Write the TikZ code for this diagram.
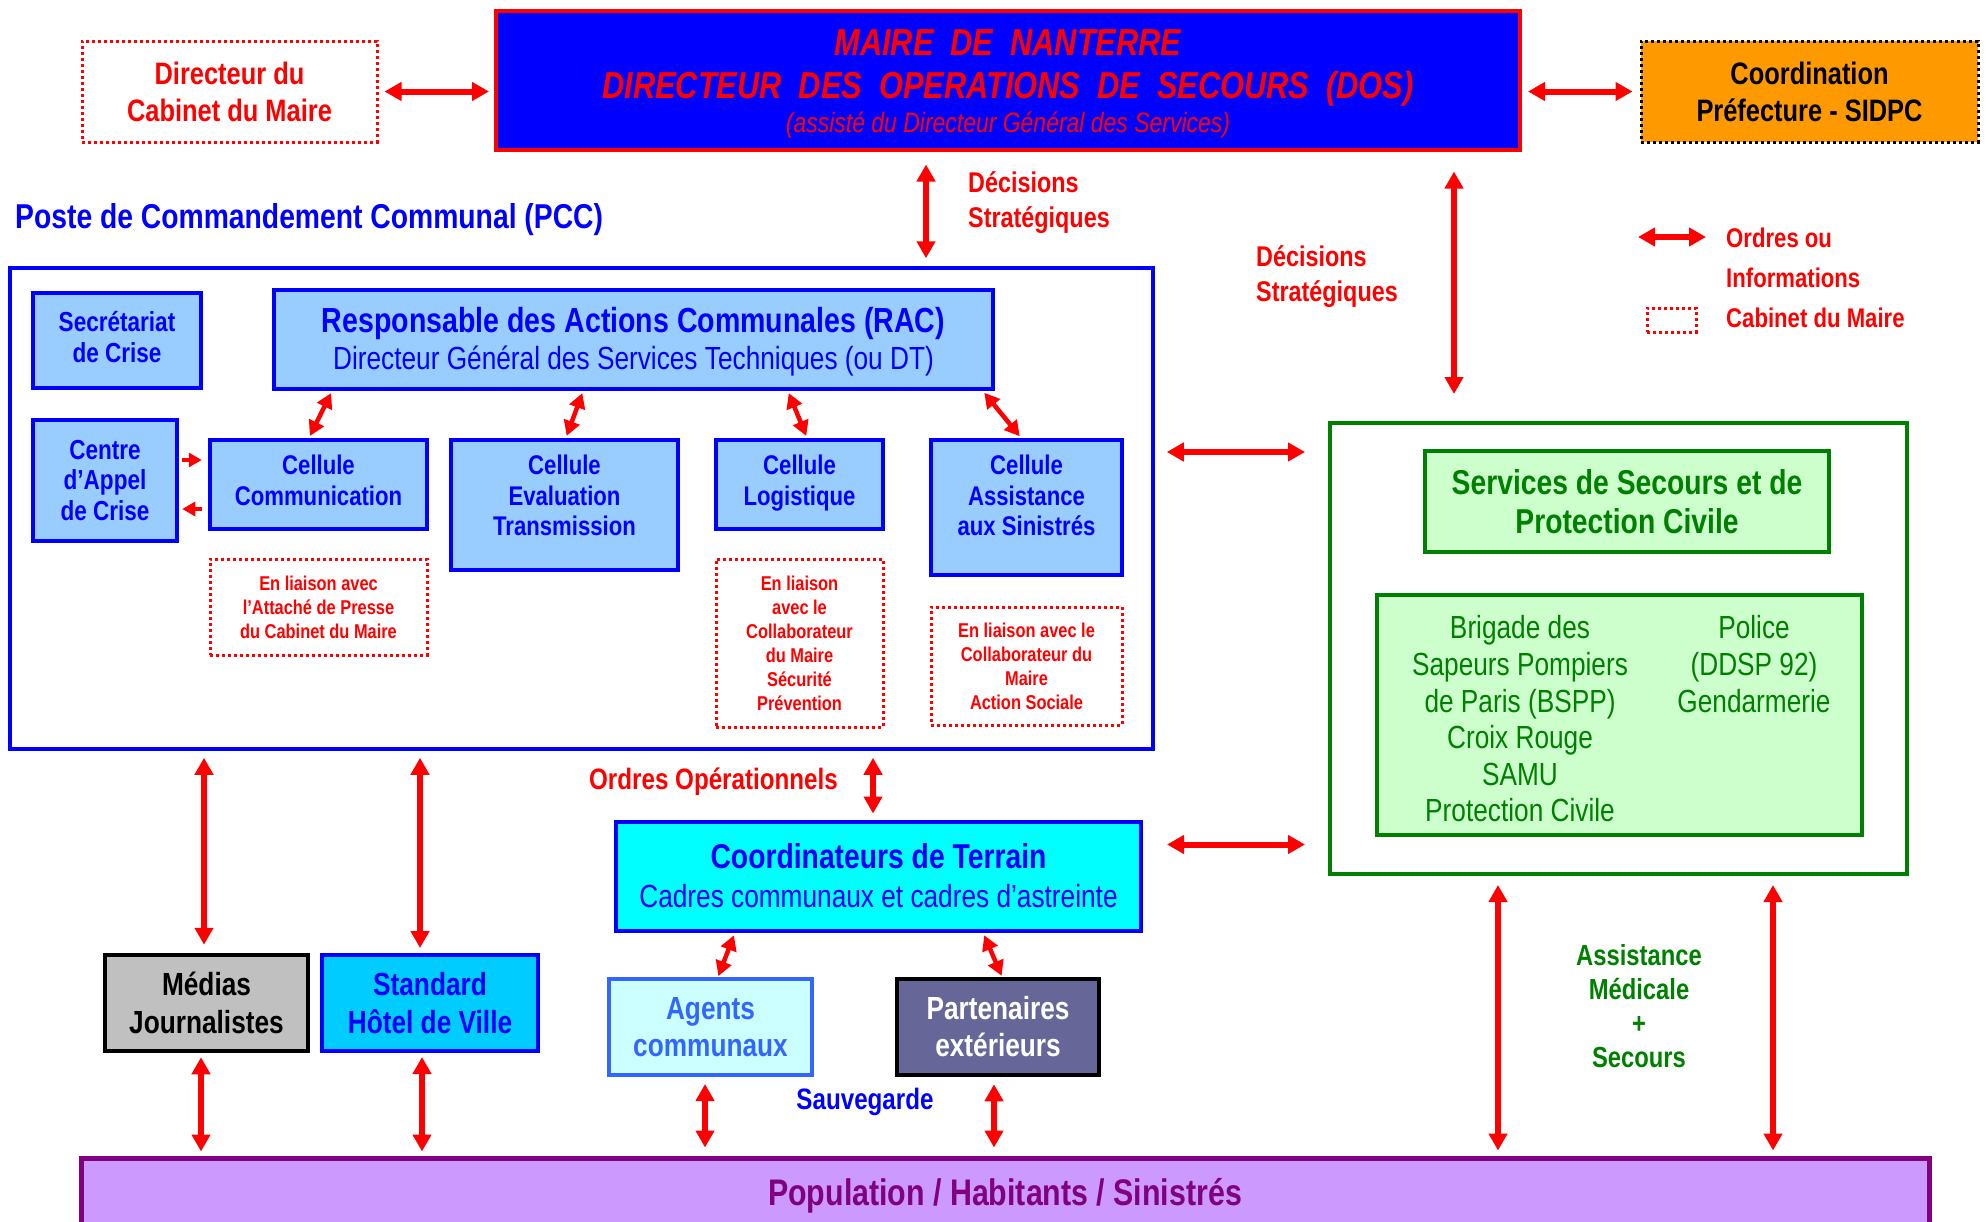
\documentclass[tikz,border=0pt]{standalone}
\usepackage{fontspec}
\setmainfont{Liberation Sans}[FakeStretch=0.82]
\usetikzlibrary{arrows.meta,calc}

\definecolor{lblue}{HTML}{99CCFF}
\definecolor{orng}{HTML}{FF9900}
\definecolor{dgreen}{HTML}{008000}
\definecolor{lgreen}{HTML}{CCFFCC}
\definecolor{aqua}{HTML}{00FFFF}
\definecolor{stdblue}{HTML}{00CCFF}
\definecolor{pale}{HTML}{CCFFFF}
\definecolor{agblue}{HTML}{3366FF}
\definecolor{slate}{HTML}{666699}
\definecolor{greybox}{HTML}{C0C0C0}
\definecolor{lilac}{HTML}{CC99FF}
\definecolor{purp}{HTML}{800080}

\newcommand\fsz[2]{\fontsize{#1}{#2}\selectfont}

\begin{document}
\begin{tikzpicture}[x=1pt,y=-1pt,
  box/.style={rectangle, inner sep=0pt, align=center},
  lbbox/.style={box, fill=lblue, draw=blue, line width=4.5pt},
  ctext/.style={inner sep=0pt, align=center, text=blue, font=\bfseries\fsz{27}{30.5}},
  dotred/.style={box, draw=red, line width=3pt, dash pattern=on 3pt off 3pt,
                 text=red, font=\bfseries\fsz{20}{24}},
  redlabel/.style={inner sep=0pt, align=left, text=red, font=\bfseries\fsz{28.5}{35}},
  arr/.style={draw=red, line width=6pt,
              {Triangle[length=17pt,width=18pt]}-{Triangle[length=17pt,width=18pt]}},
  darr/.style={draw=red, line width=4.5pt,
               {Triangle[length=15pt,width=16pt]}-{Triangle[length=15pt,width=16pt]}},
  sarr/.style={draw=red, line width=3.5pt, -{Triangle[length=13pt,width=14pt]}},
]
\useasboundingbox (0,0) rectangle (1986,1221);
\clip (0,0) rectangle (1986,1221);

% ---------- top row ----------
\node[box, fill=blue, draw=red, line width=4pt, minimum width=1024pt, minimum height=139pt]
  (dos) at (1008,80) {};
\node[inner sep=0pt, align=center, text=red, font=\bfseries\itshape\fsz{37.5}{43}] (dosT)
  at ([yshift=-3.5pt]dos.center)
  {MAIRE\ \ DE\ \ NANTERRE\\DIRECTEUR\ \ DES\ \ OPERATIONS\ \ DE\ \ SECOURS\ \ (DOS)\\[-9pt]%
   {\mdseries\fsz{28}{34}(assisté du Directeur Général des Services)}};
\node[dotred, minimum width=295pt, minimum height=101pt, font=\bfseries\fsz{31}{37}]
  (cab) at (229.5,91.5) {Directeur du\\Cabinet du Maire};
\node[box, fill=orng, draw=black, line width=3pt, dash pattern=on 3pt off 3pt,
      minimum width=337pt, minimum height=101pt, font=\bfseries\fsz{31}{37}]
  (pref) at (1809.5,91.5) {Coordination\\Préfecture - SIDPC};

\node[redlabel, anchor=west] (dec1) at (968,203) {Décisions\\Stratégiques};
\node[redlabel, anchor=west] (dec2) at (1256,277) {Décisions\\Stratégiques};

% legend
\coordinate (lgA) at (1638,237);
\coordinate (lgB) at (1706,237);
\draw[arr] (lgA) -- (lgB);
\node[redlabel, anchor=west, font=\bfseries\fsz{27}{33}] (lg1) at (1726,238) {Ordres ou};
\node[redlabel, anchor=west, font=\bfseries\fsz{27}{33}] (lg2) at (1726,278) {Informations};
\node[box, draw=red, line width=3pt, dash pattern=on 3pt off 3pt,
      minimum width=49pt, minimum height=24pt] (lgbox) at (1671.5,320) {};
\node[redlabel, anchor=west, font=\bfseries\fsz{27}{33}] (lg3) at (1726,318) {Cabinet du Maire};

% ---------- PCC ----------
\node[inner sep=0pt, anchor=west, text=blue, font=\bfseries\fsz{34.5}{40}] (pcctitle)
  at (15,220) {Poste de Commandement Communal (PCC)};
\node[box, draw=blue, line width=3.5pt, fill=white, minimum width=1143pt, minimum height=481pt]
  (pcc) at (581.5,508.5) {};

\node[lbbox, minimum width=168pt, minimum height=95pt] (sec) at (117,340.5) {};
\node[ctext, font=\bfseries\fsz{27.5}{31}] (secT) at ([yshift=3pt]sec.center) {Secrétariat\\de Crise};
\node[lbbox, minimum width=719pt, minimum height=99pt] (rac) at (633.5,339.5) {};
\node[inner sep=0pt, align=center, text=blue, font=\bfseries\fsz{34.8}{36.5}] (racT)
  at ([yshift=-2pt]rac.center)
  {Responsable des Actions Communales (RAC)\\{\mdseries\fsz{32}{36.5}Directeur Général des Services Techniques (ou DT)}};
\node[lbbox, minimum width=144pt, minimum height=121pt, text=blue, font=\bfseries\fsz{27.5}{30.5}]
  (cac) at (105,480.5) {Centre\\d’Appel\\de Crise};

\node[lbbox, minimum width=217pt, minimum height=89pt] (ccom) at (318.5,484.5) {};
\node[lbbox, minimum width=227pt, minimum height=130pt] (ceval) at (564.5,505) {};
\node[lbbox, minimum width=167pt, minimum height=89pt] (clog) at (799.5,484.5) {};
\node[lbbox, minimum width=191pt, minimum height=135pt] (cass) at (1026.5,507.5) {};
\node[ctext, anchor=north] (ccomT) at ([yshift=-17pt]ccom.north) {Cellule\\Communication};
\node[ctext, anchor=north] (cevalT) at ([yshift=-17pt]ceval.north) {Cellule\\Evaluation\\Transmission};
\node[ctext, anchor=north] (clogT) at ([yshift=-17pt]clog.north) {Cellule\\Logistique};
\node[ctext, anchor=north] (cassT) at ([yshift=-17pt]cass.north) {Cellule\\Assistance\\aux Sinistrés};

\node[dotred, minimum width=217pt, minimum height=96pt] (lcom) at (318.5,607)
  {En liaison avec\\l’Attaché de Presse\\du Cabinet du Maire};
\node[dotred, minimum width=167pt, minimum height=168pt] (llog) at (799.5,643)
  {En liaison\\avec le\\Collaborateur\\du Maire\\Sécurité\\Prévention};
\node[dotred, minimum width=191pt, minimum height=118pt] (lass) at (1026.5,666)
  {En liaison avec le\\Collaborateur du\\Maire\\Action Sociale};

% ---------- rescue services ----------
\node[box, draw=dgreen, line width=4pt, fill=white, minimum width=577pt, minimum height=451pt]
  (serv) at (1618.5,648.5) {};
\node[box, draw=dgreen, line width=4pt, fill=lgreen, minimum width=404pt, minimum height=101pt,
      text=dgreen, font=\bfseries\fsz{34.5}{39}] (sspc) at (1627,501.5)
  {Services de Secours et de\\Protection Civile};
\node[box, draw=dgreen, line width=4pt, fill=lgreen, minimum width=485pt, minimum height=240pt]
  (lst) at (1619.5,715) {};
\node[inner sep=0pt, align=center, text=dgreen, font=\fsz{32}{36.6}] (lstL) at (1520,719)
  {Brigade des\\Sapeurs Pompiers\\de Paris (BSPP)\\Croix Rouge\\SAMU\\Protection Civile};
\node[inner sep=0pt, align=center, text=dgreen, font=\fsz{32}{36.6}] (lstR) at (1754,664)
  {Police\\(DDSP 92)\\Gendarmerie};

% ---------- field level ----------
\node[redlabel, anchor=center, font=\bfseries\fsz{29.5}{35}] (ordop) at (713.5,782) {Ordres Opérationnels};
\node[box, fill=aqua, draw=blue, line width=4pt, minimum width=525pt, minimum height=109pt,
      text=blue, font=\bfseries\fsz{34.5}{39}] (coordT) at (878.5,876)
  {Coordinateurs de Terrain\\{\mdseries\fsz{32}{39}Cadres communaux et cadres d’astreinte}};

\node[box, fill=greybox, draw=black, line width=4.5pt, minimum width=203pt, minimum height=96pt,
      font=\bfseries\fsz{32}{38}] (medias) at (206.5,1003) {Médias\\Journalistes};
\node[box, fill=stdblue, draw=blue, line width=4pt, minimum width=216pt, minimum height=96pt,
      text=blue, font=\bfseries\fsz{32}{38}] (std) at (430,1003) {Standard\\Hôtel de Ville};
\node[box, fill=pale, draw=agblue, line width=4pt, minimum width=203pt, minimum height=96pt,
      text=agblue, font=\bfseries\fsz{32}{37}] (agents) at (710.5,1027) {Agents\\communaux};
\node[box, fill=slate, draw=black, line width=4.5pt, minimum width=202pt, minimum height=96pt,
      text=white, font=\bfseries\fsz{32}{37}] (part) at (998,1027) {Partenaires\\extérieurs};
\node[inner sep=0pt, text=blue, font=\bfseries\fsz{29.5}{35}] (sauv) at (865,1102) {Sauvegarde};

\node[inner sep=0pt, align=center, text=dgreen, font=\bfseries\fsz{29}{34}] (assist) at (1639,1006)
  {Assistance\\Médicale\\+\\Secours};

\node[box, fill=lilac, draw=purp, line width=5pt, minimum width=1848pt, minimum height=76pt,
      text=purp, font=\bfseries\fsz{37}{44}] (pop) at (1005,1196) {Population / Habitants / Sinistrés};

% ---------- connectors ----------
\draw[arr, shorten <=6pt, shorten >=5pt] (cab.east) -- (cab.east -| dos.west);
\draw[arr, shorten <=6pt, shorten >=7pt] (pref.west -| dos.east) -- (pref.west);
\draw[arr, shorten <=13pt, shorten >=8pt] ([xshift=-82pt]dos.south) -- ([xshift=-82pt]dos.south |- pcc.north);
\draw[arr, shorten <=20pt, shorten >=27pt] ([xshift=446pt]dos.south) -- ([xshift=446pt]dos.south |- serv.north);

\draw[darr, shorten <=2pt, shorten >=2pt] ([xshift=-301.5pt]rac.south) -- ([xshift=-9.5pt]ccom.north);
\draw[darr, shorten <=2pt, shorten >=2pt] ([xshift=-50.5pt]rac.south) -- ([xshift=1.5pt]ceval.north);
\draw[darr, shorten <=2pt, shorten >=2pt] ([xshift=154.5pt]rac.south) -- ([xshift=7.5pt]clog.north);
\draw[darr, shorten <=2pt, shorten >=2pt] ([xshift=349.5pt]rac.south) -- ([xshift=-5.5pt]cass.north);

\draw[sarr, shorten <=3pt, shorten >=6pt] ([yshift=20.5pt]cac.east) -- ([yshift=20.5pt]cac.east -| ccom.west);
\draw[sarr, shorten <=6pt, shorten >=3pt] ([yshift=-28.5pt]cac.east -| ccom.west) -- ([yshift=-28.5pt]cac.east);

\draw[arr, shorten <=12pt, shorten >=23pt] ([yshift=196.5pt]serv.west -| pcc.east) -- ([yshift=196.5pt]serv.west);
\draw[arr, shorten <=24pt, shorten >=23pt] ([yshift=31.5pt]coordT.east) -- ([yshift=31.5pt]coordT.east -| serv.west);

\draw[arr, shorten <=7pt, shorten >=6pt] ([xshift=-5.5pt]coordT.north |- pcc.south) -- ([xshift=-5.5pt]coordT.north);
\draw[arr, shorten <=7pt, shorten >=8pt] ([xshift=-2.5pt]medias.north |- pcc.south) -- ([xshift=-2.5pt]medias.north);
\draw[arr, shorten <=7pt, shorten >=5pt] ([xshift=-10pt]std.north |- pcc.south) -- ([xshift=-10pt]std.north);

\draw[darr, shorten <=3pt, shorten >=1pt] ([xshift=-143.5pt]coordT.south) -- ([xshift=7.5pt]agents.north);
\draw[darr, shorten <=3pt, shorten >=1pt] ([xshift=104.5pt]coordT.south) -- ([xshift=4pt]part.north);

\draw[arr, shorten <=4pt, shorten >=4pt] ([xshift=-5.5pt]medias.south) -- ([xshift=-5.5pt]medias.south |- pop.north);
\draw[arr, shorten <=4pt, shorten >=4pt] ([xshift=-8pt]std.south) -- ([xshift=-8pt]std.south |- pop.north);
\draw[arr, shorten <=7pt, shorten >=8pt] ([xshift=-5.5pt]agents.south) -- ([xshift=-5.5pt]agents.south |- pop.north);
\draw[arr, shorten <=7pt, shorten >=8pt] ([xshift=-4pt]part.south) -- ([xshift=-4pt]part.south |- pop.north);
\draw[arr, shorten <=9pt, shorten >=5pt] ([xshift=-120.5pt]serv.south) -- ([xshift=-120.5pt]serv.south |- pop.north);
\draw[arr, shorten <=9pt, shorten >=5pt] ([xshift=154.5pt]serv.south) -- ([xshift=154.5pt]serv.south |- pop.north);
\end{tikzpicture}
\end{document}
